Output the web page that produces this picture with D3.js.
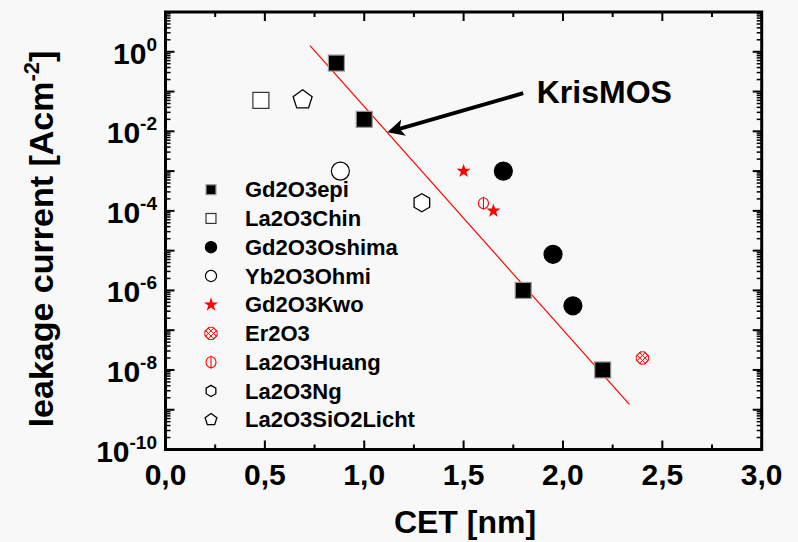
<!DOCTYPE html>
<html>
<head>
<meta charset="utf-8">
<script src="https://cdn.jsdelivr.net/npm/d3@7"></script>
<style>
  body { margin: 0; background: #f8f8f8; }
  svg { display: block; background: #f8f8f8; font-family: "Liberation Sans", Arial, sans-serif; font-weight: bold; }
</style>
</head>
<body>
<svg width="798" height="542"></svg>
<script>
// data: [CET nm, leakage A/cm2]
var gd2o3epi = [[0.86, 0.52], [1.0, 0.02], [1.8, 1e-6], [2.2, 1e-8]];
var la2o3chin = [[0.48, 0.06]];
var gd2o3oshima = [[1.7, 1e-3], [1.95, 8.1e-6], [2.05, 4.1e-7]];
var yb2o3ohmi = [[0.88, 1e-3]];
var gd2o3kwo = [[1.5, 1e-3], [1.65, 1e-4]];
var er2o3 = [[2.4, 2e-8]];
var la2o3huang = [[1.6, 1.55e-4]];
var la2o3ng = [[1.29, 1.6e-4]];
var la2o3sio2licht = [[0.69, 0.062]];

var fitLine = [[0.727, 1.42], [2.334, 1.37e-9]];
var arrowFrom = [1.80, 0.091];
var arrowTo = [1.133, 0.01];
var labelPos = [1.868, 0.051];
var labelText = "KrisMOS";

var xTicks = [0, 0.5, 1.0, 1.5, 2.0, 2.5, 3.0];
var yTickExp = [0, -2, -4, -6, -8, -10];

var series = [
  {name: "Gd2O3epi", data: gd2o3epi, type: "sqFill"},
  {name: "La2O3Chin", data: la2o3chin, type: "sqOpen"},
  {name: "Gd2O3Oshima", data: gd2o3oshima, type: "cirFill"},
  {name: "Yb2O3Ohmi", data: yb2o3ohmi, type: "cirOpen"},
  {name: "Gd2O3Kwo", data: gd2o3kwo, type: "star"},
  {name: "Er2O3", data: er2o3, type: "hatch"},
  {name: "La2O3Huang", data: la2o3huang, type: "phi"},
  {name: "La2O3Ng", data: la2o3ng, type: "hex"},
  {name: "La2O3SiO2Licht", data: la2o3sio2licht, type: "pent"}
];

var svg = d3.select("svg");
var x = d3.scaleLinear().domain([0, 3]).range([165.5, 761.7]);
var y = d3.scaleLog().domain([1e-10, 10]).range([449.5, 12]);
var x0 = 165.5, x1 = 761.7, y0 = 449.5, y1 = 12;
var clipN = 0;

function polyPath(n, r, rot) {
  var pts = d3.range(n).map(function(i) {
    var a = rot + i * 2 * Math.PI / n;
    return [r * Math.cos(a), r * Math.sin(a)];
  });
  return "M" + pts.join("L") + "Z";
}

// draws one marker centred at 0,0, s = scale factor (1 for plot, small for legend)
function marker(g, type, s) {
  if (type == "sqFill" || type == "sqOpen") {
    var h = 8 * s;
    g.append("rect").attr("x", -h).attr("y", -h).attr("width", 2 * h).attr("height", 2 * h)
      .attr("fill", type == "sqFill" ? "#000" : "#fff")
      .attr("stroke", type == "sqFill" ? "#999" : "#333").attr("stroke-width", 1.2);
  } else if (type == "cirFill" || type == "cirOpen") {
    g.append("circle").attr("r", 9 * s)
      .attr("fill", type == "cirFill" ? "#000" : "#fff")
      .attr("stroke", "#000").attr("stroke-width", 1.2);
  } else if (type == "star") {
    // the small red symbols keep the same size in the legend
    g.append("path").attr("d", d3.symbol(d3.symbolStar, 62)()).attr("fill", "red");
  } else if (type == "hex") {
    g.append("path").attr("d", polyPath(6, 9 * s, -Math.PI / 2))
      .attr("fill", "#fff").attr("stroke", "#000").attr("stroke-width", 1.3);
  } else if (type == "pent") {
    g.append("path").attr("d", polyPath(5, 10 * s, -Math.PI / 2))
      .attr("fill", "#fff").attr("stroke", "#000").attr("stroke-width", 1.3);
  } else if (type == "phi") {
    g.append("ellipse").attr("rx", 5).attr("ry", 5.5)
      .attr("fill", "none").attr("stroke", "red").attr("stroke-width", 1.1);
    g.append("line").attr("x1", 0).attr("x2", 0).attr("y1", -6.5).attr("y2", 6.5)
      .attr("stroke", "red").attr("stroke-width", 1.1);
  } else if (type == "hatch") {
    var r = 6.8, o = 2.6;
    var p = "";
    [-1.5 * o, -0.5 * o, 0.5 * o, 1.5 * o].forEach(function(k) {
      p += "M" + (-r + k) + "," + (-r - k) + "L" + (r + k) + "," + (r - k);
      p += "M" + (-r + k) + "," + (r + k) + "L" + (r + k) + "," + (-r + k);
    });
    var id = "clipH" + (clipN++);
    g.append("clipPath").attr("id", id).append("path").attr("d", polyPath(8, r, Math.PI / 8));
    g.append("path").attr("d", p).attr("clip-path", "url(#" + id + ")")
      .attr("stroke", "red").attr("stroke-width", 1).attr("fill", "none");
    g.append("path").attr("d", polyPath(8, r * 0.97, Math.PI / 8))
      .attr("fill", "none").attr("stroke", "red").attr("stroke-width", 0.9);
  }
}

// fit line
svg.append("line")
  .attr("x1", x(fitLine[0][0])).attr("y1", y(fitLine[0][1]))
  .attr("x2", x(fitLine[1][0])).attr("y2", y(fitLine[1][1]))
  .attr("stroke", "red").attr("stroke-width", 1.2);

// data markers
series.forEach(function(se) {
  se.data.forEach(function(d) {
    var g = svg.append("g").attr("transform", "translate(" + x(d[0]) + "," + y(d[1]) + ")");
    marker(g, se.type, 1);
  });
});

// axes ticks (inward on all four sides)
var ax = svg.append("g").attr("stroke", "#000").attr("stroke-width", 2);
d3.range(0, 3.001, 0.25).forEach(function(v) {
  var major = Math.abs(v * 2 - Math.round(v * 2)) < 1e-6;
  var len = major ? 9 : 5;
  ax.append("line").attr("x1", x(v)).attr("x2", x(v)).attr("y1", y0).attr("y2", y0 - len);
  ax.append("line").attr("x1", x(v)).attr("x2", x(v)).attr("y1", y1).attr("y2", y1 + len);
});
for (var e = -10; e <= 0; e++) {
  for (var m = 1; m <= 9; m++) {
    var v = m * Math.pow(10, e);
    var len = m == 1 ? 9 : 5;
    ax.append("line").attr("y1", y(v)).attr("y2", y(v)).attr("x1", x0).attr("x2", x0 + len).attr("stroke-width", m == 1 ? 2 : 1.5);
    ax.append("line").attr("y1", y(v)).attr("y2", y(v)).attr("x1", x1).attr("x2", x1 - len).attr("stroke-width", m == 1 ? 2 : 1.5);
  }
}
svg.append("rect").attr("x", x0).attr("y", y1).attr("width", x1 - x0).attr("height", y0 - y1)
  .attr("fill", "none").attr("stroke", "#000").attr("stroke-width", 3);

// tick labels
svg.selectAll(".xl").data(xTicks).enter().append("text")
  .attr("x", function(d) { return x(d); }).attr("y", 485)
  .attr("text-anchor", "middle").attr("font-size", 30)
  .text(function(d) { return d3.format(".1f")(d).replace(".", ","); });

yTickExp.forEach(function(ex) {
  var t = svg.append("text").attr("x", 157).attr("y", y(Math.pow(10, ex)) + 12)
    .attr("text-anchor", "end").attr("font-size", 30);
  t.append("tspan").text("10");
  t.append("tspan").attr("font-size", 19).attr("dy", -13).text(ex);
});

// axis titles
svg.append("text").attr("x", 465).attr("y", 533).attr("text-anchor", "middle")
  .attr("font-size", 32).text("CET [nm]");
var yt = svg.append("text").attr("transform", "translate(53,239) rotate(-90)")
  .attr("text-anchor", "middle").attr("font-size", 34);
yt.append("tspan").text("leakage current [Acm");
yt.append("tspan").attr("font-size", 22).attr("dy", -14).text("-2");
yt.append("tspan").attr("dy", 14).text("]");

// annotation
svg.append("defs").append("marker").attr("id", "ah").attr("viewBox", "0 0 10 10")
  .attr("refX", 8).attr("refY", 5).attr("markerWidth", 6.5).attr("markerHeight", 4.2)
  .attr("markerUnits", "strokeWidth").attr("orient", "auto")
  .append("path").attr("d", "M0,0L10,5L0,10L2.5,5Z").attr("fill", "#000");
svg.append("line")
  .attr("x1", x(arrowFrom[0])).attr("y1", y(arrowFrom[1]))
  .attr("x2", x(arrowTo[0])).attr("y2", y(arrowTo[1]))
  .attr("stroke", "#000").attr("stroke-width", 4).attr("marker-end", "url(#ah)");
svg.append("text").attr("x", x(labelPos[0])).attr("y", y(labelPos[1]))
  .attr("font-size", 32).text(labelText);

// legend
var leg = svg.append("g");
series.forEach(function(se, i) {
  var cy = 189.7 + i * 28.75;
  var g = leg.append("g").attr("transform", "translate(211," + cy + ")");
  marker(g, se.type, 0.62);
  leg.append("text").attr("x", 245).attr("y", cy + 7.6).attr("font-size", 22).text(se.name);
});
</script>
</body>
</html>
